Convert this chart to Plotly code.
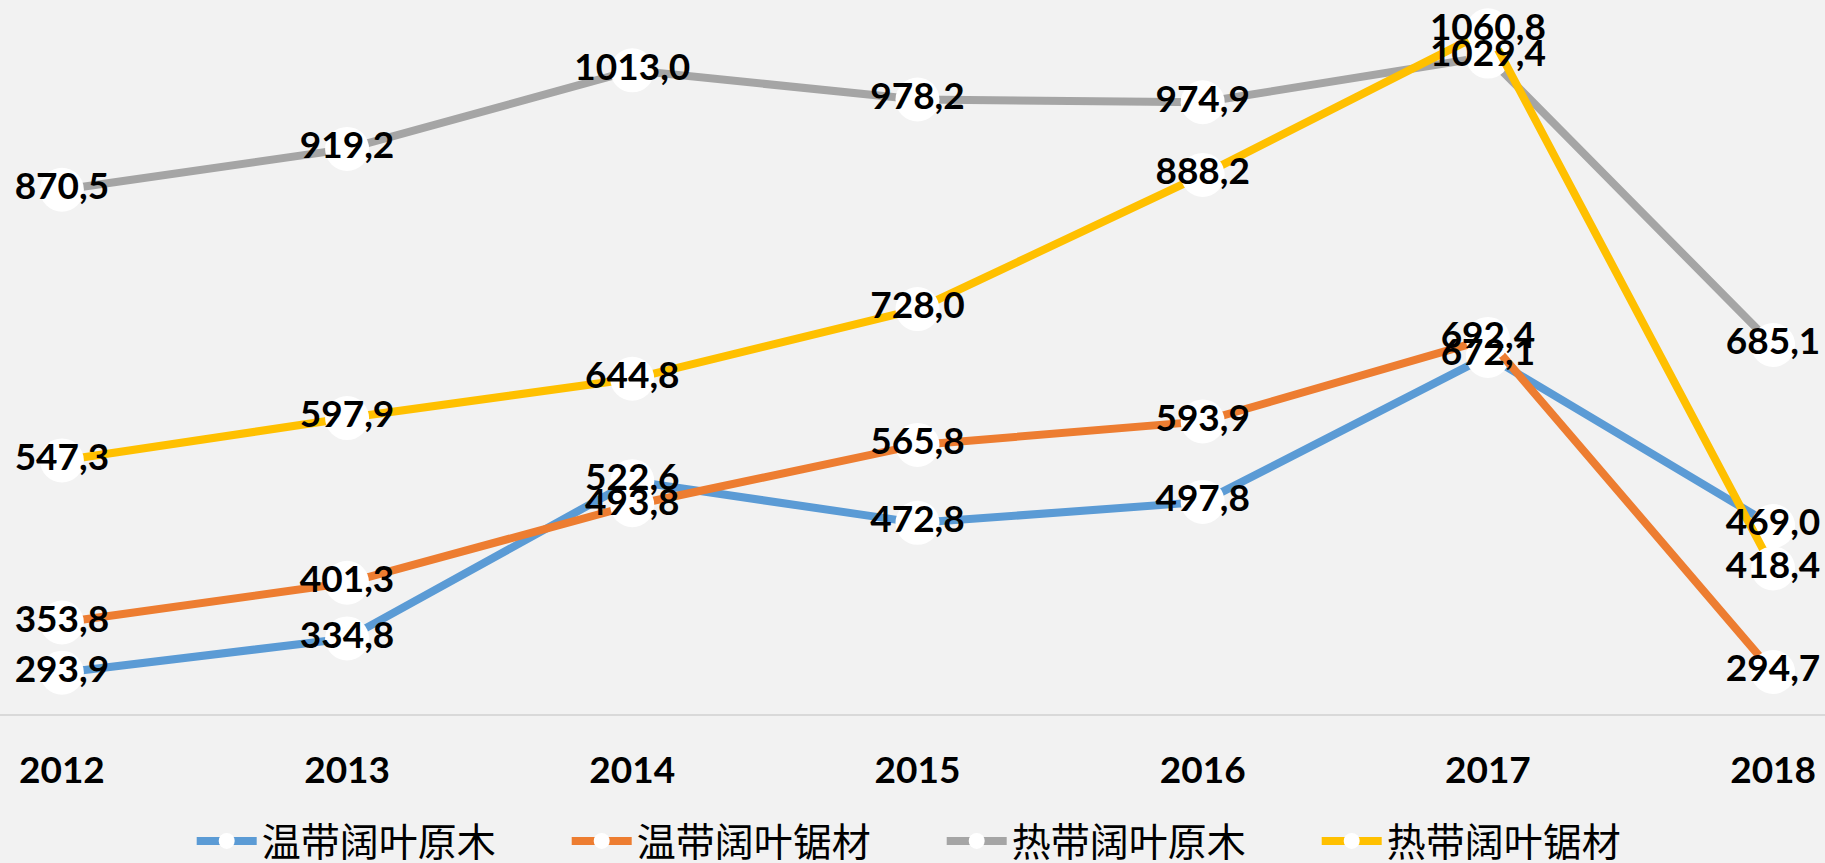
import plotly.graph_objects as go

years = [2012, 2013, 2014, 2015, 2016, 2017, 2018]
year_labels = [str(y) for y in years]
series_names = ["温带阔叶原木", "温带阔叶锯材", "热带阔叶原木", "热带阔叶锯材"]
temperate_logs = [293.9, 334.8, 522.6, 472.8, 497.8, 672.1, 469.0]
temperate_sawn = [353.8, 401.3, 493.8, 565.8, 593.9, 692.4, 294.7]
tropical_logs = [870.5, 919.2, 1013.0, 978.2, 974.9, 1029.4, 685.1]
tropical_sawn = [547.3, 597.9, 644.8, 728.0, 888.2, 1060.8, 418.4]
colors = ["#5B9BD5", "#ED7D31", "#A5A5A5", "#FFC000"]

all_series = [temperate_logs, temperate_sawn, tropical_logs, tropical_sawn]

fig = go.Figure()
for name, vals, col in zip(series_names, all_series, colors):
    fig.add_trace(go.Scatter(
        x=years, y=vals, name=name, mode="lines+markers",
        line=dict(color=col, width=8),
        marker=dict(color="white", size=44, line=dict(width=0)),
        cliponaxis=False,
    ))

label_font = dict(family="Lato", size=37, color="black", weight="bold")
for vals in all_series:
    fig.add_trace(go.Scatter(
        x=years, y=vals, mode="text",
        text=[f"{v:.1f}".replace(".", ",") for v in vals],
        textposition="middle center",
        textfont=label_font,
        showlegend=False, hoverinfo="skip", cliponaxis=False,
    ))

fig.update_layout(
    width=1825, height=863,
    paper_bgcolor="#F2F2F2", plot_bgcolor="#F2F2F2",
    margin=dict(l=0, r=0, t=0, b=149, autoexpand=False),
    xaxis=dict(
        range=[2011.783, 2018.182],
        tickvals=years, ticktext=year_labels,
        tickfont=label_font,
        showgrid=False, zeroline=False,
        showline=True, linecolor="#D9D9D9", linewidth=2,
        ticks="", ticklabelstandoff=23,
    ),
    yaxis=dict(range=[244.6, 1097], visible=False, showgrid=False, zeroline=False),
    legend=dict(
        orientation="h", x=0.516, xanchor="center", y=-0.178, yanchor="middle",
        font=dict(family="Noto Sans CJK SC", size=39, color="black"),
        bgcolor="rgba(0,0,0,0)", entrywidth=300, entrywidthmode="pixels",
        itemwidth=60,
    ),
    showlegend=True,
)

fig.write_html("out.html")
